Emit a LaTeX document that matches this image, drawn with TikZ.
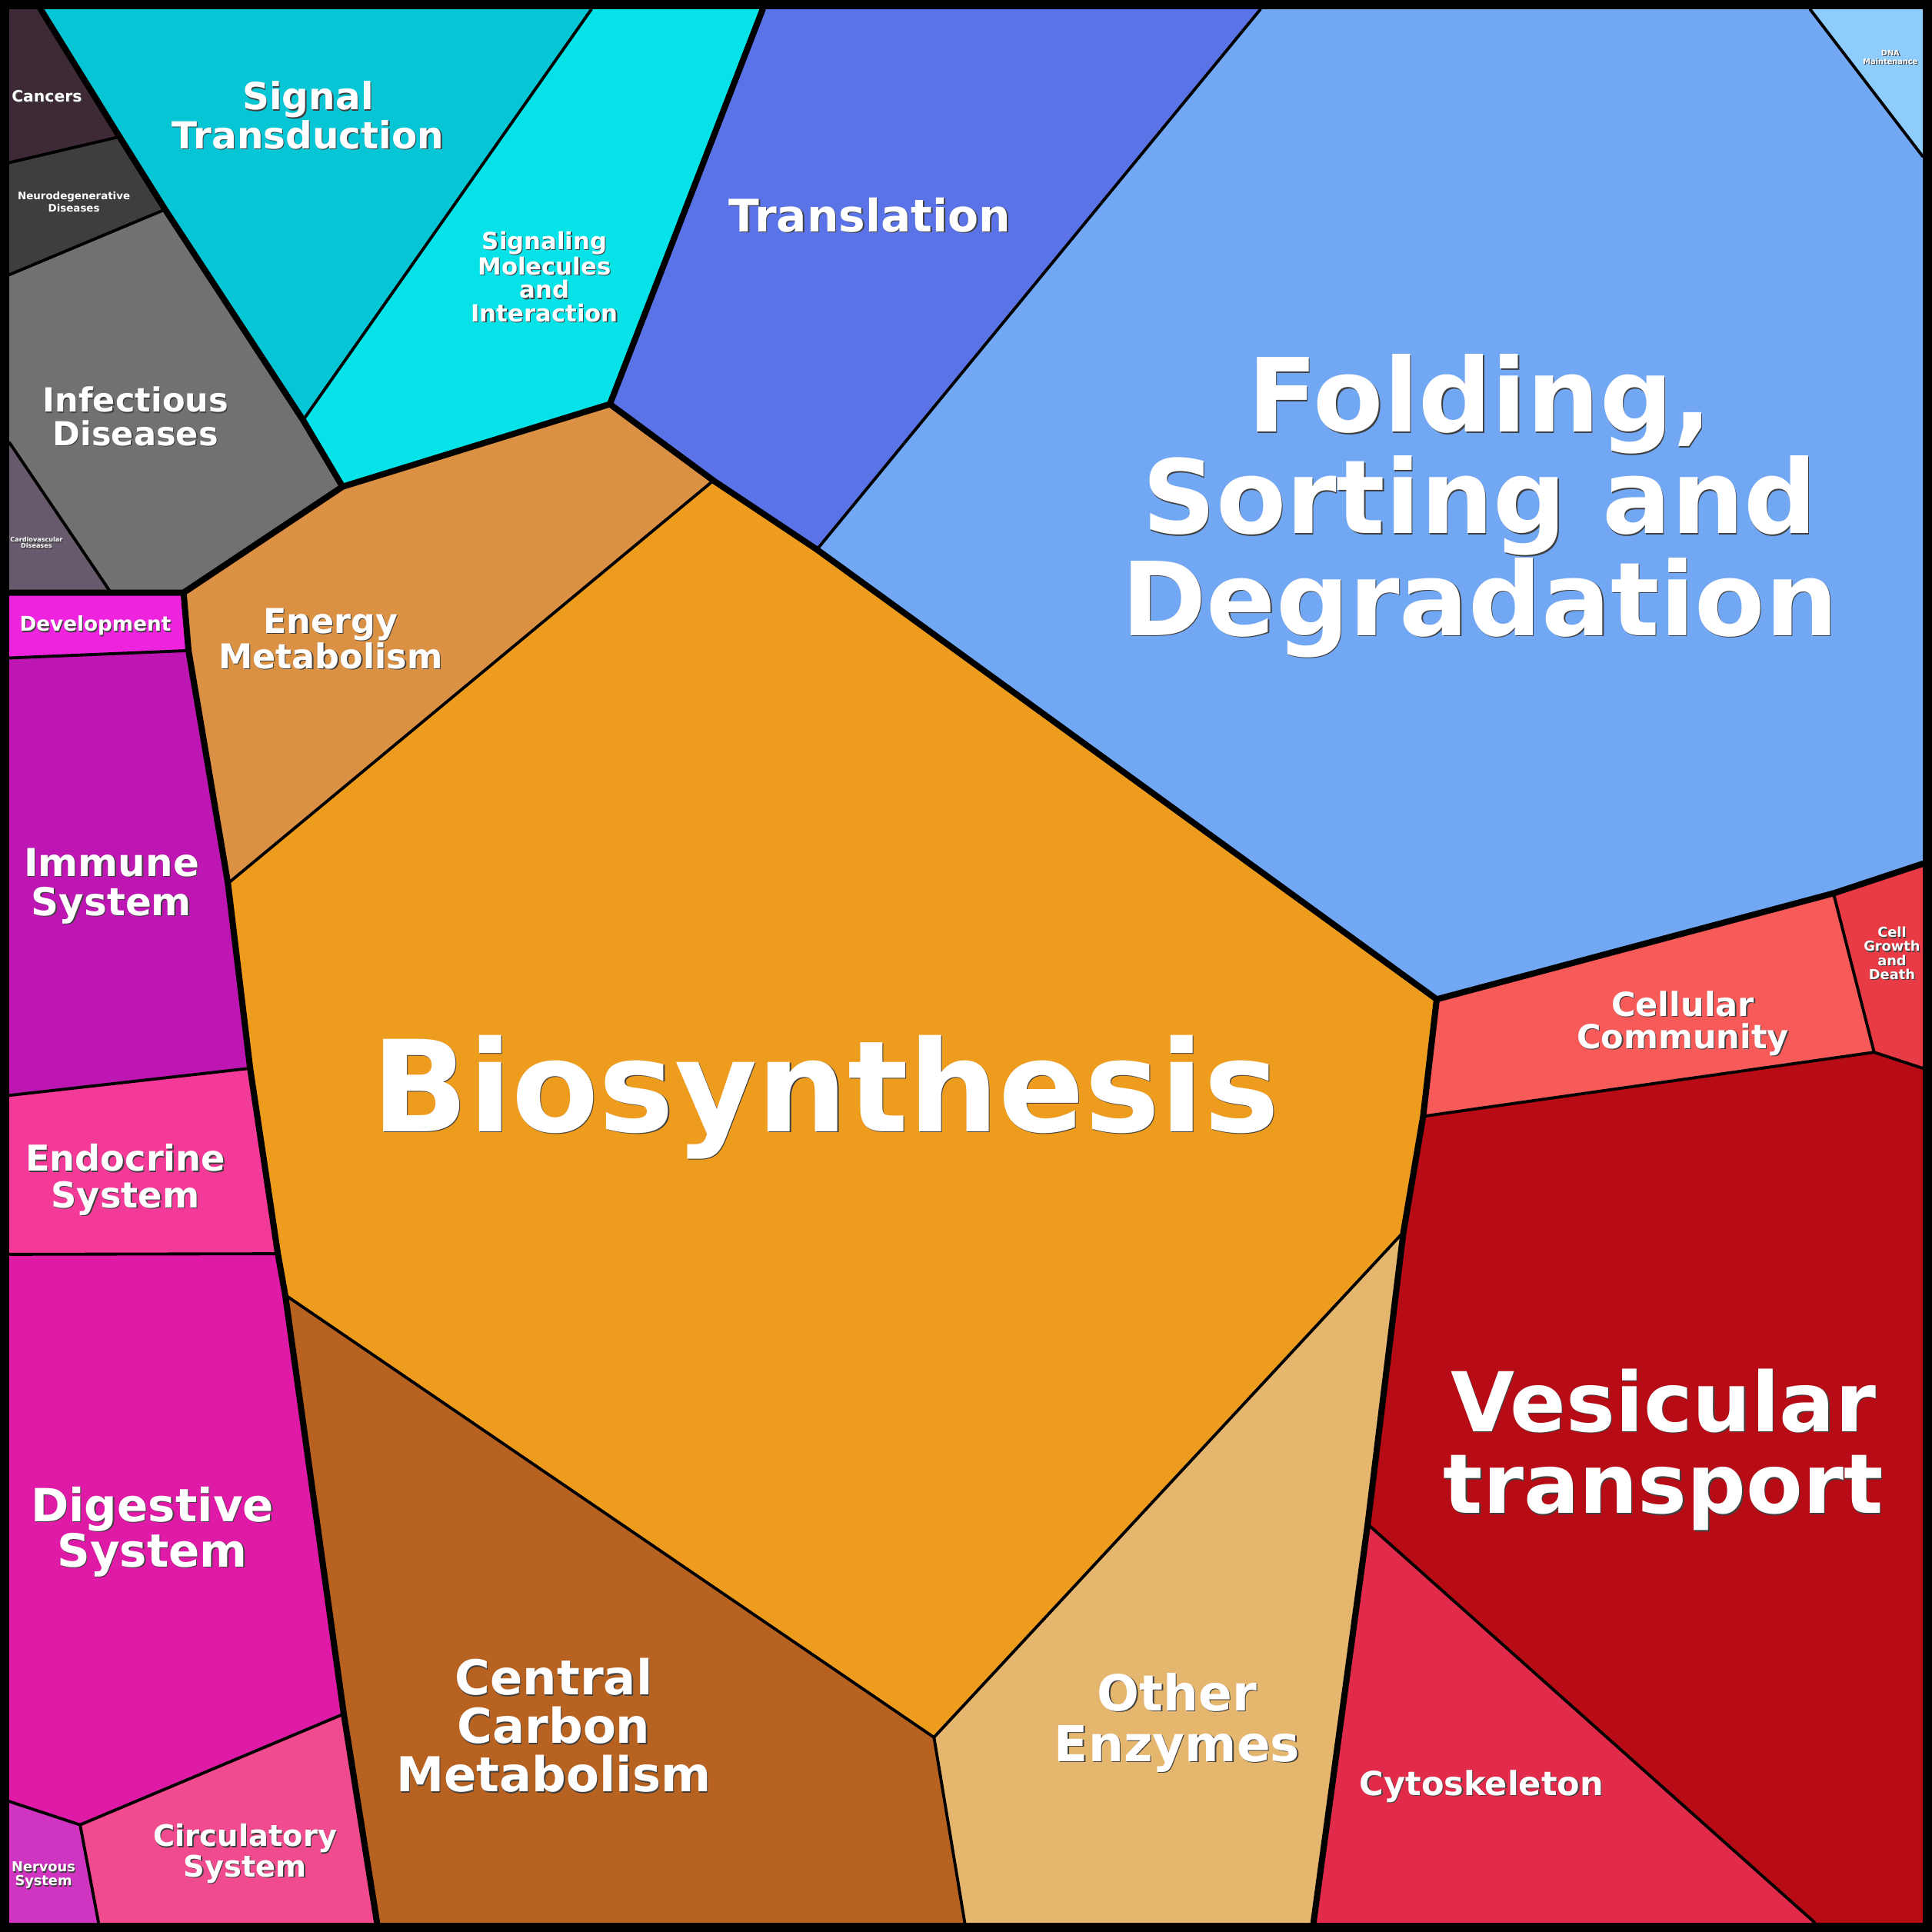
\documentclass[tikz,border=0pt]{standalone}
\usepackage{fontspec}
\setmainfont{DejaVu Sans}

\definecolor{cancers}{HTML}{3E2A36}
\definecolor{neuro}{HTML}{3F3D3F}
\definecolor{infect}{HTML}{717172}
\definecolor{cardio}{HTML}{675A6C}
\definecolor{signal}{HTML}{06C5D4}
\definecolor{signmol}{HTML}{05E3E9}
\definecolor{transl}{HTML}{5A73E6}
\definecolor{folding}{HTML}{72A8F3}
\definecolor{dna}{HTML}{8ECCFC}
\definecolor{energy}{HTML}{DA9143}
\definecolor{biosyn}{HTML}{ED9C1E}
\definecolor{carbon}{HTML}{B86222}
\definecolor{enzymes}{HTML}{E5B66E}
\definecolor{community}{HTML}{F65B5A}
\definecolor{growth}{HTML}{E83B46}
\definecolor{vesicular}{HTML}{B70C16}
\definecolor{cytoskel}{HTML}{E22B4A}
\definecolor{develop}{HTML}{EE23DE}
\definecolor{immune}{HTML}{BE16B2}
\definecolor{endocrine}{HTML}{F43A99}
\definecolor{digestive}{HTML}{DE1AA6}
\definecolor{circul}{HTML}{EF4B8E}
\definecolor{nervous}{HTML}{D035C1}

\newcommand\lblfont[2]{\fontsize{#1}{#2}\selectfont\bfseries}
\newcommand\sh[1]{\rlap{\kern0.8pt\raisebox{-0.8pt}{\textcolor{black!75}{#1}}}#1}

\begin{document}
\begin{tikzpicture}[x=1pt,y=-1pt]
            \tikzstyle{celledge}=[draw=black,line width=2.4pt,line join=round,line cap=round]
            \tikzstyle{groupedge}=[draw=black,line width=5pt,line join=round,line cap=round]
            \tikzstyle{lbl}=[text=white,align=center,inner sep=0pt]

            \def\lo{7.5}
            \def\hi{1560.5}

            \useasboundingbox (0,0) rectangle (1568,1568);
            \fill[black] (0,0) rectangle (1568,1568);

            \coordinate (tl) at (\lo,\lo);
            \coordinate (tr) at (\hi,\lo);
            \coordinate (bl) at (\lo,\hi);
            \coordinate (br) at (\hi,\hi);

            \coordinate (a1) at (33,\lo);
            \coordinate (a2) at (97,111);
            \coordinate (a3) at (134,170);
            \coordinate (a5) at (246,341);
            \coordinate (a4) at (278,395);
            \coordinate (b1) at (\lo,132);
            \coordinate (b2) at (\lo,223);
            \coordinate (b3) at (\lo,359);
            \coordinate (b4) at (90,481);
            \coordinate (b5) at (\lo,481);
            \coordinate (c1) at (149,481);

            \coordinate (s1) at (480,\lo);
            \coordinate (s2) at (619,\lo);
            \coordinate (s3) at (495,328);

            \coordinate (t1) at (1023,\lo);
            \coordinate (t2) at (579,390);
            \coordinate (t3) at (663,446);
            \coordinate (f1) at (1469,\lo);
            \coordinate (f2) at (\hi,127);

            \coordinate (g1) at (1166,811);
            \coordinate (g2) at (1488,725);
            \coordinate (g3) at (\hi,701);
            \coordinate (g4) at (1521,854);
            \coordinate (g5) at (\hi,867);
            \coordinate (g6) at (1155,906);
            \coordinate (v1) at (1139,1000);
            \coordinate (v2) at (1110,1237);
            \coordinate (v3) at (1473,\hi);
            \coordinate (v4) at (1066,\hi);

            \coordinate (o1) at (758,1410);
            \coordinate (o2) at (783,\hi);
            \coordinate (m1) at (231.5,1051);
            \coordinate (m2) at (306,\hi);
            \coordinate (e1) at (185,717);

            \coordinate (d2) at (153,528);
            \coordinate (d3) at (\lo,534);
            \coordinate (i1) at (203,867);
            \coordinate (i2) at (\lo,889);
            \coordinate (n1) at (225.5,1017.5);
            \coordinate (n2) at (\lo,1018);
            \coordinate (h1) at (279,1391);
            \coordinate (h2) at (65,1481);
            \coordinate (h3) at (\lo,1462);
            \coordinate (h4) at (80,\hi);

            \fill[cancers]   (tl) -- (a1) -- (a2) -- (b1) -- cycle;
            \fill[neuro]     (b1) -- (a2) -- (a3) -- (b2) -- cycle;
            \fill[infect]    (b2) -- (a3) -- (a5) -- (a4) -- (c1) -- (b4) -- (b3) -- cycle;
            \fill[cardio]    (b3) -- (b4) -- (b5) -- cycle;
            \fill[signal]    (a1) -- (s1) -- (a5) -- (a3) -- (a2) -- cycle;
            \fill[signmol]   (s1) -- (s2) -- (s3) -- (a4) -- (a5) -- cycle;
            \fill[transl]    (s2) -- (t1) -- (t3) -- (t2) -- (s3) -- cycle;
            \fill[folding]   (t1) -- (f1) -- (f2) -- (g3) -- (g2) -- (g1) -- (t3) -- cycle;
            \fill[dna]       (f1) -- (tr) -- (f2) -- cycle;
            \fill[energy]    (c1) -- (a4) -- (s3) -- (t2) -- (e1) -- (d2) -- cycle;
            \fill[biosyn]    (t2) -- (t3) -- (g1) -- (g6) -- (v1) -- (o1) -- (m1) -- (n1) -- (i1) -- (e1) -- cycle;
            \fill[carbon]    (m1) -- (o1) -- (o2) -- (m2) -- (h1) -- cycle;
            \fill[enzymes]   (v1) -- (v2) -- (v4) -- (o2) -- (o1) -- cycle;
            \fill[community] (g1) -- (g2) -- (g4) -- (g6) -- cycle;
            \fill[growth]    (g2) -- (g3) -- (g5) -- (g4) -- cycle;
            \fill[vesicular] (g6) -- (g4) -- (g5) -- (br) -- (v3) -- (v2) -- (v1) -- cycle;
            \fill[cytoskel]  (v2) -- (v3) -- (v4) -- cycle;
            \fill[develop]   (b5) -- (c1) -- (d2) -- (d3) -- cycle;
            \fill[immune]    (d3) -- (d2) -- (e1) -- (i1) -- (i2) -- cycle;
            \fill[endocrine] (i2) -- (i1) -- (n1) -- (n2) -- cycle;
            \fill[digestive] (n2) -- (n1) -- (m1) -- (h1) -- (h2) -- (h3) -- cycle;
            \fill[circul]    (h2) -- (h1) -- (m2) -- (h4) -- cycle;
            \fill[nervous]   (h3) -- (h2) -- (h4) -- (bl) -- cycle;

            \path[celledge] (b1) -- (a2);
            \path[celledge] (b2) -- (a3);
            \path[celledge] (b3) -- (b4);
            \path[celledge] (s1) -- (a5);
            \path[celledge] (t1) -- (t3);
            \path[celledge] (f1) -- (f2);
            \path[celledge] (t2) -- (e1);
            \path[celledge] (m1) -- (o1) -- (v1);
            \path[celledge] (o1) -- (o2);
            \path[celledge] (g2) -- (g4) -- (g5);
            \path[celledge] (g6) -- (g4);
            \path[celledge] (v2) -- (v3);
            \path[celledge] (d3) -- (d2);
            \path[celledge] (i2) -- (i1);
            \path[celledge] (n2) -- (n1);
            \path[celledge] (h3) -- (h2) -- (h1);
            \path[celledge] (h2) -- (h4);

            \path[groupedge] (a1) -- (a2) -- (a3) -- (a5) -- (a4) -- (s3) -- (t2) -- (t3) -- (g1) -- (g2) -- (g3);
            \path[groupedge] (s2) -- (s3);
            \path[groupedge] (b5) -- (b4) -- (c1) -- (a4);
            \path[groupedge] (c1) -- (d2) -- (e1) -- (i1) -- (n1) -- (m1) -- (h1) -- (m2);
            \path[groupedge] (g1) -- (g6) -- (v1) -- (v2) -- (v4);

            \node[lbl,font=\lblfont{103}{103}]   (biosynthesis) at (670,891)     {\sh{Biosynthesis}};
            \node[lbl,font=\lblfont{83}{82.5}]   (folding)      at (1201,411)    {\sh{Folding,}\\\sh{Sorting and}\\\sh{Degradation}};
            \node[lbl,font=\lblfont{67}{66.5}]   (vesicular)    at (1350,1177)   {\sh{Vesicular}\\\sh{transport}};
            \node[lbl,font=\lblfont{36.4}{36}]   (translation)  at (706,175)     {\sh{Translation}};
            \node[lbl,font=\lblfont{30.3}{30}]   (signal)       at (250,94)      {\sh{Signal}\\\sh{Transduction}};
            \node[lbl,font=\lblfont{19.2}{19}]   (sigmol)       at (442,225)     {\sh{Signaling}\\\sh{Molecules}\\\sh{and}\\\sh{Interaction}};
            \node[lbl,font=\lblfont{26.9}{27.4}] (infectious)   at (110,338.5)   {\sh{Infectious}\\\sh{Diseases}};
            \node[lbl,font=\lblfont{12.7}{12.7}] (cancers)      at (38,78.6)     {\sh{Cancers}};
            \node[lbl,font=\lblfont{8.36}{8.3}]  (neuro)        at (60,164.4)    {\sh{Neurodegenerative}\\\sh{Diseases}};
            \node[lbl,font=\lblfont{5.06}{5}]    (cardio)       at (29.6,441)    {\sh{Cardiovascular}\\\sh{Diseases}};
            \node[lbl,font=\lblfont{16.4}{16.4}] (development)  at (77.4,508.3)  {\sh{Development}};
            \node[lbl,font=\lblfont{31.2}{31.8}] (immune)       at (90.5,719.7)  {\sh{Immune}\\\sh{System}};
            \node[lbl,font=\lblfont{28.9}{29.9}] (endocrine)    at (101.8,958)   {\sh{Endocrine}\\\sh{System}};
            \node[lbl,font=\lblfont{37.1}{36.8}] (digestive)    at (123.7,1243.4) {\sh{Digestive}\\\sh{System}};
            \node[lbl,font=\lblfont{24}{23.7}]   (circulatory)  at (199,1504.9)  {\sh{Circulatory}\\\sh{System}};
            \node[lbl,font=\lblfont{11.1}{11.3}] (nervous)      at (35.3,1522.4) {\sh{Nervous}\\\sh{System}};
            \node[lbl,font=\lblfont{39}{39.3}]   (carbon)       at (449.4,1400.8) {\sh{Central}\\\sh{Carbon}\\\sh{Metabolism}};
            \node[lbl,font=\lblfont{27.8}{27.7}] (energy)       at (268.4,518.8) {\sh{Energy}\\\sh{Metabolism}};
            \node[lbl,font=\lblfont{40.3}{41.4}] (enzymes)      at (955.4,1398.4) {\sh{Other}\\\sh{Enzymes}};
            \node[lbl,font=\lblfont{26.9}{26.9}] (cytoskeleton) at (1202.5,1450) {\sh{Cytoskeleton}};
            \node[lbl,font=\lblfont{26.9}{26}]   (community)    at (1365.8,831)  {\sh{Cellular}\\\sh{Community}};
            \node[lbl,font=\lblfont{11.1}{11.3}] (growth)       at (1535.5,774)  {\sh{Cell}\\\sh{Growth}\\\sh{and}\\\sh{Death}};
            \node[lbl,font=\lblfont{6.1}{6.8}]   (dna)          at (1534.2,46.9) {\sh{DNA}\\\sh{Maintenance}};
        \end{tikzpicture}
\end{document}
